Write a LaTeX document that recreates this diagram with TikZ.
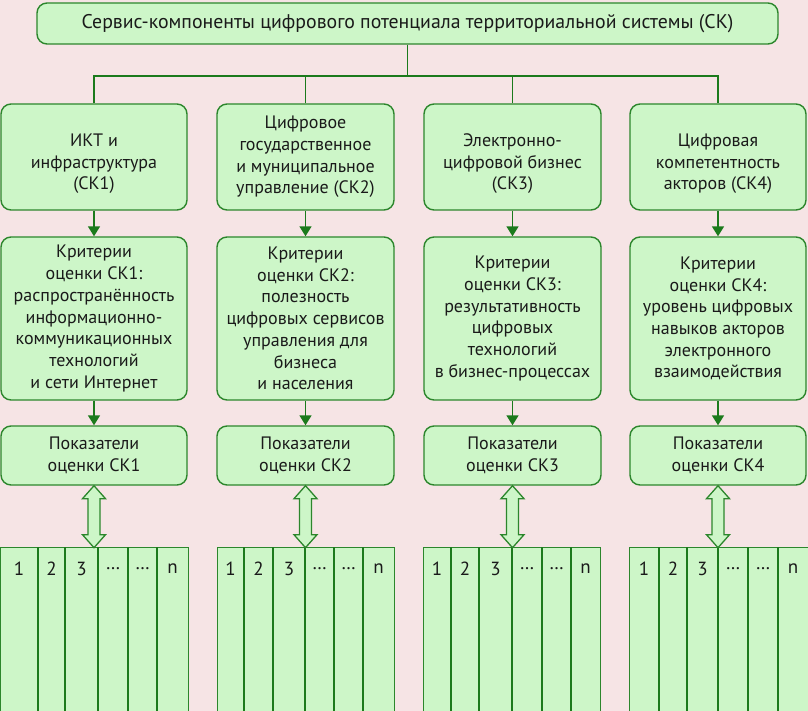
\documentclass[tikz,border=0pt]{standalone}
\usepackage{fontspec}
\setmainfont{PT Sans}
\usetikzlibrary{arrows.meta}
\definecolor{bgpink}{HTML}{F6E4E5}
\definecolor{boxfill}{HTML}{CDF6C8}
\definecolor{boxline}{HTML}{2C862C}
\definecolor{arrowgreen}{HTML}{1C7A1C}
\definecolor{txt}{HTML}{1A1A1A}
\newcommand{\dnstrut}{\rule{0pt}{26pt}}
\begin{document}
\begin{tikzpicture}[x=1pt,y=-1pt,
  box/.style={draw=boxline, fill=boxfill, line width=1.4pt, rounded corners=10pt,
    inner sep=0pt, align=center, text=txt, font=\fontsize{18}{21.7}\selectfont},
  conn/.style={draw=arrowgreen, line width=1.7pt},
  arr/.style={draw=arrowgreen, line width=1.6pt, -{Triangle[length=10pt,width=12pt]}},
  dblarr/.style={draw=boxline, fill=boxfill, line width=1.3pt, line join=miter},
  tabbox/.style={draw=boxline, fill=boxfill, line width=1.4pt, inner sep=0pt},
  tabline/.style={draw=arrowgreen, line width=1.1pt},
  num/.style={text=txt, font=\fontsize{19}{21}\selectfont, inner sep=0pt},
]
\fill[bgpink] (0,0) rectangle (808,711);
\useasboundingbox (0,0) rectangle (808,711);

% top box
\node[box, minimum width=741pt, minimum height=41pt, font=\fontsize{19.8}{23}\selectfont] (top) at (407.5,23.5)
  {Сервис-компоненты цифрового потенциала территориальной системы (СК)};

% row 1
\node[box, minimum width=186pt, minimum height=106pt] (r1a) at (94,157)
  {\dnstrut ИКТ и\\инфраструктура\\(СК1)};
\node[box, minimum width=177pt, minimum height=106pt] (r1b) at (305.5,157)
  {Цифровое\\государственное\\и муниципальное\\управление (СК2)};
\node[box, minimum width=177pt, minimum height=106pt] (r1c) at (512.5,157)
  {\dnstrut Электронно-\\цифровой бизнес\\(СК3)};
\node[box, minimum width=176pt, minimum height=106pt] (r1d) at (718,157)
  {\dnstrut Цифровая\\компетентность\\акторов (СК4)};

% row 2
\node[box, minimum width=186pt, minimum height=163pt] (r2a) at (94,318.5)
  {Критерии\\оценки СК1:\\распространённость\\информационно-\\коммуникационных\\технологий\\и сети Интернет};
\node[box, minimum width=177pt, minimum height=163pt] (r2b) at (305.5,318.5)
  {Критерии\\оценки СК2:\\полезность\\цифровых сервисов\\управления для\\бизнеса\\и населения};
\node[box, minimum width=177pt, minimum height=163pt] (r2c) at (512.5,318.5)
  {Критерии\\оценки СК3:\\результативность\\цифровых\\технологий\\в бизнес-процессах};
\node[box, minimum width=176pt, minimum height=163pt] (r2d) at (718,318.5)
  {Критерии\\оценки СК4:\\уровень цифровых\\навыков акторов\\электронного\\взаимодействия};

% row 3
\node[box, minimum width=186pt, minimum height=59pt] (r3a) at (94,455.5)
  {Показатели\\оценки СК1};
\node[box, minimum width=177pt, minimum height=59pt] (r3b) at (305.5,455.5)
  {Показатели\\оценки СК2};
\node[box, minimum width=177pt, minimum height=59pt] (r3c) at (512.5,455.5)
  {Показатели\\оценки СК3};
\node[box, minimum width=176pt, minimum height=59pt] (r3d) at (718,455.5)
  {Показатели\\оценки СК4};

% tree connectors
\coordinate (bus) at (407.5,76);
\draw[conn] (top.south) -- (bus);
\draw[conn] (r1a.north) -- (r1a.north |- bus) -- (r1d.north |- bus) -- (r1d.north);
\draw[conn] (r1b.north) -- (r1b.north |- bus);
\draw[conn] (r1c.north) -- (r1c.north |- bus);

% arrows
\foreach \c in {a,b,c,d}{
  \draw[arr] (r1\c.south) -- (r2\c.north);
  \draw[arr] (r2\c.south) -- (r3\c.north);
}

% tables: name / left x / width / inner line offsets
\foreach \c/\lx/\w/\o in {a/0/188/{38,65,98,128,157},
                           b/217/177/{27,56,88,117,146},
                           c/423/177/{28,56,89,119,148},
                           d/629/179/{30,58,89,119,149}}{
  \node[tabbox, minimum width=\w pt, minimum height=164pt, anchor=north west] (tb\c) at (\lx,547) {};
  \foreach \p in \o { \draw[tabline] ([xshift=\p pt]tb\c.north west) -- ([xshift=\p pt]tb\c.south west); }
  \edef\offs{0,\o,\w}
  \foreach \lab [count=\i] in {1,2,3,…,…,n}{
    \pgfmathsetmacro{\xa}{{\offs}[\i-1]}
    \pgfmathsetmacro{\xb}{{\offs}[\i]}
    \node[num] (n\c\i) at ([xshift={(\xa+\xb)/2}, yshift=-22pt]tb\c.north west) {\lab};
  }
}

% double arrows between indicator boxes and tables
\foreach \c in {a,b,c,d}{
  \draw[dblarr] (r3\c.south) -- ++(11.5,13) -- ++(-5.5,0) -- ++(0,36) -- ++(5.5,0)
    -- ++(-11.5,13) -- ++(-11.5,-13) -- ++(5.5,0) -- ++(0,-36) -- ++(-5.5,0) -- cycle;
}
\end{tikzpicture}
\end{document}
